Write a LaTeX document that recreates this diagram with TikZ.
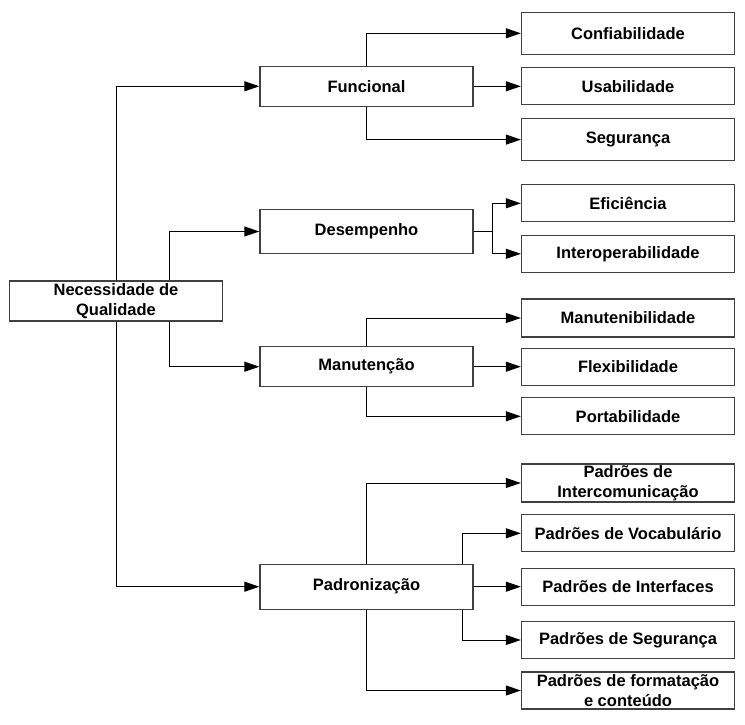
\documentclass[tikz,border=0pt]{standalone}
\usepackage{fontspec}
\setmainfont{Liberation Sans}
\usetikzlibrary{arrows.meta}
\begin{document}
\begin{tikzpicture}[x=1pt,y=-1pt,
  box/.style={draw=black!75,line width=1.3pt,fill=white,minimum width=213pt,
    inner sep=0pt,align=center,font=\fontsize{16.5}{20}\selectfont\bfseries},
  conn/.style={draw=black,line width=1pt},
  arr/.style={conn,-{Triangle[length=15pt,width=10pt]}}]
\useasboundingbox (0,0) rectangle (745,725);
% root
\node[box,minimum height=40pt] (root) at (116,301) {Necessidade de\\Qualidade};
% middle
\node[box,minimum height=40pt] (fun) at (366.5,86.3) {Funcional};
\node[box,minimum height=44pt] (des) at (366.5,231.5) {Desempenho};
\node[box,minimum height=40pt] (man) at (366.5,366.7) {Manutenção};
\node[box,minimum height=45pt] (pad) at (366.5,586.7) {Padronização};
% right
\node[box,minimum height=42pt] (conf) at (628,33.3) {Confiabilidade};
\node[box,minimum height=37pt] (usa) at (628,86.3) {Usabilidade};
\node[box,minimum height=42pt] (seg) at (628,139.6) {Segurança};
\node[box,minimum height=37pt] (efi) at (628,203.3) {Eficiência};
\node[box,minimum height=37pt] (iop) at (628,253.8) {Interoperabilidade};
\node[box,minimum height=38pt] (mnb) at (628,318) {Manutenibilidade};
\node[box,minimum height=37pt] (flx) at (628,366.7) {Flexibilidade};
\node[box,minimum height=37pt] (prt) at (628,416.3) {Portabilidade};
\node[box,minimum height=38pt] (icm) at (628,483) {Padrões de\\Intercomunicação};
\node[box,minimum height=37pt] (voc) at (628,533.3) {Padrões de Vocabulário};
\node[box,minimum height=37pt] (itf) at (628,586.7) {Padrões de Interfaces};
\node[box,minimum height=37pt] (sg2) at (628,640) {Padrões de Segurança};
\node[box,minimum height=37pt] (fmt) at (628,690.5) {Padrões de formatação\\e conteúdo};
\coordinate (dfork) at (492.5,231.5);
% root connectors
\draw[arr] (root.north) |- (fun.west);
\draw[arr] ([xshift=53.5pt]root.north) |- (des.west);
\draw[arr] ([xshift=53.5pt]root.south) |- (man.west);
\draw[arr] (root.south) |- (pad.west);
% funcional
\draw[arr] (fun.north) |- (conf.west);
\draw[arr] (fun.east) -- (usa.west);
\draw[arr] (fun.south) |- (seg.west);
% desempenho
\draw[conn] (des.east) -- (dfork);
\draw[arr] (dfork) |- (efi.west);
\draw[arr] (dfork) |- (iop.west);
% manutencao
\draw[arr] (man.north) |- (mnb.west);
\draw[arr] (man.east) -- (flx.west);
\draw[arr] (man.south) |- (prt.west);
% padronizacao
\draw[arr] (pad.north) |- (icm.west);
\draw[arr] ([xshift=95.5pt]pad.north) |- (voc.west);
\draw[arr] (pad.east) -- (itf.west);
\draw[arr] ([xshift=95.5pt]pad.south) |- (sg2.west);
\draw[arr] (pad.south) |- (fmt.west);
\end{tikzpicture}
\end{document}
